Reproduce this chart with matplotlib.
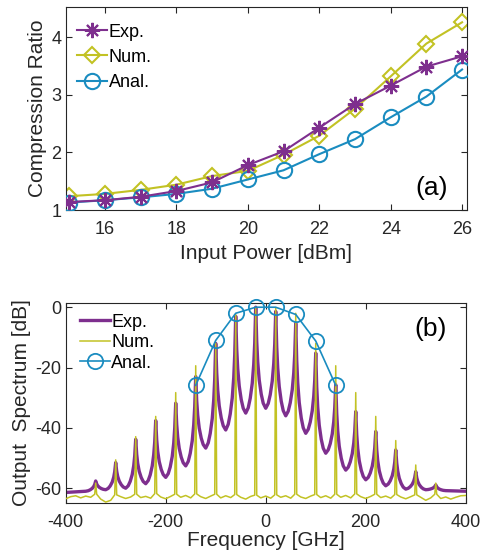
import numpy as np
import matplotlib
matplotlib.use('Agg')
import matplotlib.pyplot as plt

plt.rcParams['font.family'] = ['Liberation Sans', 'DejaVu Sans']
plt.rcParams['axes.unicode_minus'] = False

# (a) compression ratio vs input power
power = [15, 16, 17, 18, 19, 20, 21, 22, 23, 24, 25, 26]
cr_exp = [1.14, 1.17, 1.23, 1.33, 1.48, 1.78, 2.02, 2.43, 2.84, 3.16, 3.49, 3.67]
cr_num = [1.24, 1.28, 1.35, 1.44, 1.59, 1.68, 1.96, 2.29, 2.76, 3.32, 3.89, 4.26]
cr_anal = [1.13, 1.17, 1.22, 1.28, 1.37, 1.53, 1.69, 1.97, 2.23, 2.61, 2.97, 3.44]

# (b) output spectrum
peak_freq = [-340, -300, -260, -220, -180, -140, -100, -60, -20,
             20, 60, 100, 140, 180, 220, 260, 300, 340]
exp_peak = [-57.6, -51.5, -43.8, -37.6, -31.8, -23.0, -12.0, -3.0, 0.0,
            -1.4, -5.3, -15.2, -25.7, -34.6, -41.2, -47.3, -54.5, -58.9]
# valleys at midpoints -360, -320, ..., 360
exp_valley = [-61.0, -60.5, -60.0, -58.5, -56.4, -52.6, -46.7, -40.7, -35.1, -33.5,
              -36.0, -41.8, -48.4, -54.0, -57.2, -59.2, -60.3, -60.5, -60.8]
exp_edge = [-61.4, -61.0]
num_peak = [-58.3, -50.6, -42.9, -36.2, -28.3, -19.4, -12.0, -2.5, 0.0,
            -0.3, -2.0, -12.0, -19.4, -28.3, -36.2, -44.2, -52.3, -58.3]
num_floor_freq = list(range(-400, 401, 10))
num_floor = [-63.5, -62.8, -62.5, -63.2, -62.6, -63.0, -62.0, -63.6, -64.6, -64.0,
             -62.2, -62.8, -63.4, -62.9, -62.0, -63.1, -62.7, -63.3, -61.8, -62.9,
             -63.5, -62.7, -62.0, -63.0, -62.4, -63.2, -61.9, -62.8, -63.4, -62.6,
             -62.0, -63.2, -62.5, -63.1, -62.1, -63.0, -63.6, -62.7, -62.3, -63.2,
             -62.6, -63.3, -62.2, -63.0, -62.5, -63.3, -62.0, -62.9, -63.4, -62.6,
             -62.1, -63.1, -62.5, -63.3, -62.0, -63.0, -62.4, -63.2, -61.9, -62.8,
             -63.4, -62.7, -62.0, -63.1, -62.6, -63.3, -62.1, -62.9, -63.5, -62.8,
             -62.2, -63.0, -64.0, -63.2, -62.0, -63.4, -62.9, -63.6, -63.0, -62.5,
             -62.4]
anal_freq = [-140, -100, -60, -20, 20, 60, 100, 140]
anal_level = [-25.9, -11.0, -2.0, 0.0, 0.0, -2.4, -11.2, -25.9]

# shape of one Exp comb line (distance from peak, fraction of rise)
peak_offset = [0, 1, 2, 4, 7, 11, 15, 20]
peak_rise = [1.0, 0.82, 0.66, 0.46, 0.28, 0.14, 0.05, 0.0]

exp_x = [-400]
exp_y = [exp_edge[0]]
for i, f in enumerate(peak_freq):
    vl, vr, p = exp_valley[i], exp_valley[i + 1], exp_peak[i]
    for off, r in zip(peak_offset[::-1], peak_rise[::-1]):
        exp_x.append(f - off)
        exp_y.append(vl + (p - vl) * r)
    for off, r in zip(peak_offset[1:], peak_rise[1:]):
        exp_x.append(f + off)
        exp_y.append(vr + (p - vr) * r)
exp_x.append(400)
exp_y.append(exp_edge[1])

num_x, num_y = [], []
for f, v in zip(num_floor_freq, num_floor):
    if f in peak_freq:
        p = num_peak[peak_freq.index(f)]
        num_x += [f - 2, f, f + 2]
        num_y += [v, p, v]
    else:
        num_x.append(f)
        num_y.append(v)

c_exp = '#7E2F8E'
c_num = '#C2C224'
c_anal = '#1A8CC0'
c_axis = '#262626'
asterisk = (8, 2, 0)

fig = plt.figure(figsize=(4.82, 5.59), dpi=100)
ax1 = fig.add_axes([0.1363, 0.6243, 0.832, 0.3626])
ax2 = fig.add_axes([0.1363, 0.1007, 0.830, 0.3578])

ax1.plot(power, cr_num, color=c_num, marker='D', ms=8.5, mfc='none', mew=1.5, lw=1.5,
         label='Num.', zorder=2)
ax1.plot(power, cr_anal, color=c_anal, marker='o', ms=11, mfc='none', mew=1.5, lw=1.5,
         label='Anal.', zorder=3)
ax1.plot(power, cr_exp, color=c_exp, marker=asterisk, ms=11, mew=1.5, lw=1.5,
         label='Exp.', zorder=4)
ax1.set_xlim(14.9, 26.13)
ax1.set_ylim(1, 4.52)
ax1.set_xticks([16, 18, 20, 22, 24, 26])
ax1.set_yticks([1, 2, 3, 4])
ax1.set_xlabel('Input Power [dBm]', fontsize=15, color=c_axis, labelpad=4)
ax1.set_ylabel('Compression Ratio', fontsize=15, color=c_axis, labelpad=3)
h, l = ax1.get_legend_handles_labels()
ax1.legend([h[2], h[0], h[1]], [l[2], l[0], l[1]], loc='upper left',
           bbox_to_anchor=(0.01, 0.955), frameon=False,
           fontsize=13, handlelength=1.65, handletextpad=0.1, labelspacing=0.45,
           borderaxespad=0.2, borderpad=0.2)
ax1.text(0.953, 0.05, '(a)', transform=ax1.transAxes, fontsize=19, ha='right',
         va='bottom', color='black')

ax2.plot(exp_x, exp_y, color=c_exp, lw=2.4, label='Exp.', zorder=2)
ax2.plot(num_x, num_y, color=c_num, lw=1.1, label='Num.', zorder=3)
ax2.plot(anal_freq, anal_level, color=c_anal, marker='o', ms=11, mfc='none',
         mew=1.3, lw=1.2, label='Anal.', zorder=4, clip_on=False)
ax2.set_xlim(-400, 400)
ax2.set_ylim(-64.8, 1.5)
ax2.set_xticks([-400, -200, 0, 200, 400])
ax2.set_yticks([-60, -40, -20, 0])
ax2.set_xlabel('Frequency [GHz]', fontsize=15, color=c_axis, labelpad=0)
ax2.set_ylabel('Output  Spectrum [dB]', fontsize=15, color=c_axis, labelpad=3)
ax2.legend(loc='upper left', bbox_to_anchor=(0.008, 1.0), frameon=False, fontsize=13,
           handlelength=1.65, handletextpad=0.1, labelspacing=0.2,
           borderaxespad=0.2, borderpad=0.4)
ax2.text(0.953, 0.81, '(b)', transform=ax2.transAxes, fontsize=19, ha='right',
         va='bottom', color='black')

for ax in (ax1, ax2):
    ax.tick_params(direction='in', length=4, width=0.8, top=True, right=True,
                   labelsize=13, colors=c_axis)
    ax.tick_params(axis='x', pad=8)
    ax.tick_params(axis='y', pad=3)
    for s in ax.spines.values():
        s.set_color(c_axis)
        s.set_linewidth(0.8)

fig.savefig('out.png', dpi=100)
